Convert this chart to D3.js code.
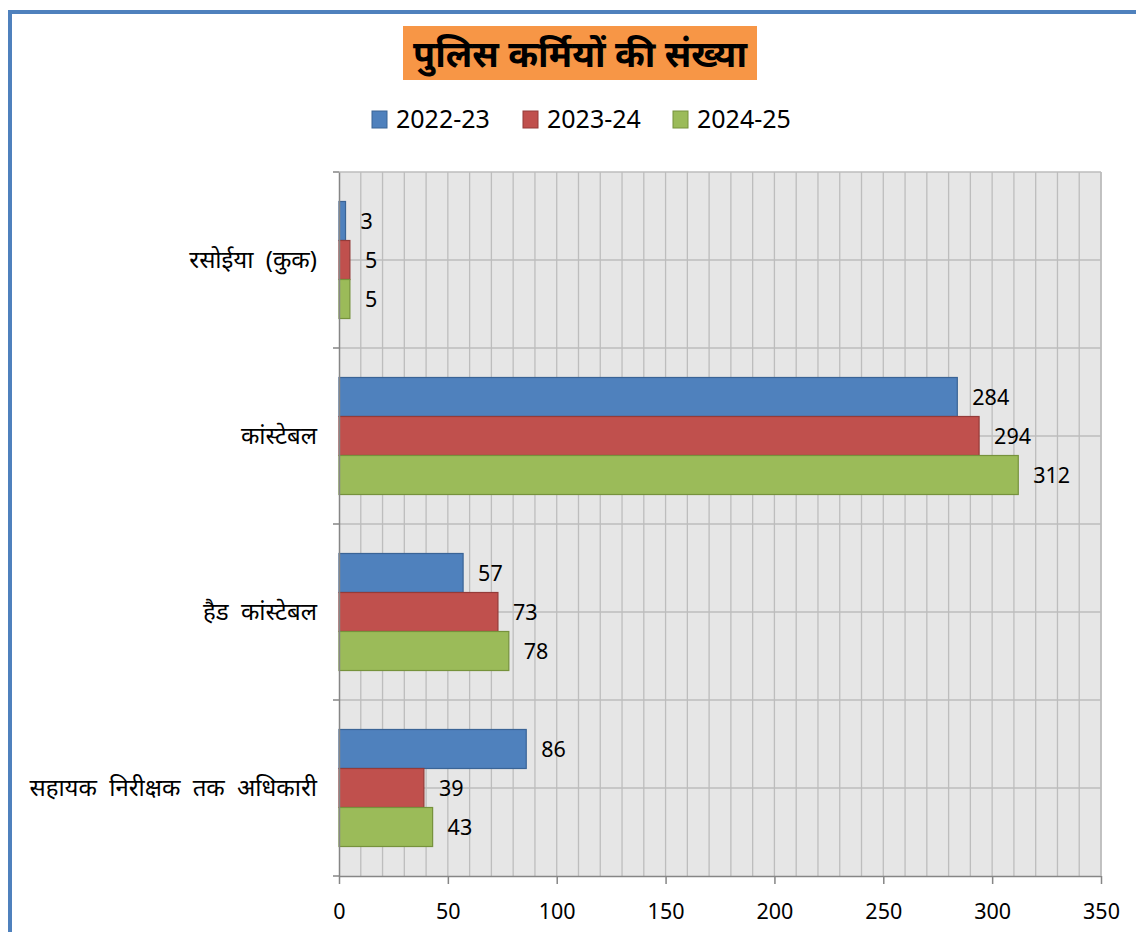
<!DOCTYPE html>
<html><head><meta charset="utf-8">
<script src="https://cdn.jsdelivr.net/npm/d3@7"></script>
<style>
body{margin:0;background:#fff;}
svg{display:block;}
</style></head>
<body>
<svg id="c" width="1136" height="932"></svg>
<script>
const title = "पुलिस कर्मियों की संख्या";
const categories = ["रसोईया (कुक)", "कांस्टेबल", "हैड कांस्टेबल", "सहायक निरीक्षक तक अधिकारी"];
const seriesNames = ["2022-23", "2023-24", "2024-25"];
const values2022 = [3, 284, 57, 86];
const values2023 = [5, 294, 73, 39];
const values2024 = [5, 312, 78, 43];
const xTicks = [0, 50, 100, 150, 200, 250, 300, 350];

(function () {
const seriesValues = [values2022, values2023, values2024];
const fills = ["#4F81BD", "#C0504D", "#9BBB59"];
const strokes = ["#3A6496", "#943B39", "#76923C"];
const font = "'Noto Sans', 'Open Sans', sans-serif";

const svg = d3.select("#c");

// outer chart border (top & left visible)
svg.append("rect").attr("x", 10).attr("y", 12).attr("width", 1200).attr("height", 1000)
  .attr("fill", "none").attr("stroke", "#4F81BD").attr("stroke-width", 4);

const pLeft = 339, pRight = 1101, pTop = 172, pBottom = 876;
const x = d3.scaleLinear().domain([0, 350]).range([pLeft, pRight]);
const y0 = d3.scaleBand().domain(categories).range([pTop, pBottom]).padding(0);
const y1 = d3.scaleBand().domain(seriesNames).range([0, y0.bandwidth()]).paddingInner(0).paddingOuter(0.756);

// plot background
svg.append("rect").attr("x", pLeft).attr("y", pTop).attr("width", pRight - pLeft).attr("height", pBottom - pTop)
  .attr("fill", "#E6E6E6");

// vertical grid every 10
const grid = svg.append("g").attr("stroke", "#BDBDBD").attr("stroke-width", 1.3);
d3.range(10, 351, 10).forEach(v => {
  grid.append("line").attr("x1", x(v)).attr("x2", x(v)).attr("y1", pTop).attr("y2", pBottom);
});
// horizontal grid: category boundaries and centers
const hLines = [];
categories.forEach(c => { hLines.push(y0(c)); hLines.push(y0(c) + y0.bandwidth() / 2); });
hLines.forEach(yy => {
  grid.append("line").attr("x1", pLeft).attr("x2", pRight).attr("y1", yy).attr("y2", yy);
});

// bars
categories.forEach((c, ci) => {
  seriesNames.forEach((s, si) => {
    const v = seriesValues[si][ci];
    svg.append("rect")
      .attr("x", x(0)).attr("y", y0(c) + y1(s))
      .attr("width", x(v) - x(0)).attr("height", y1.bandwidth())
      .attr("fill", fills[si]).attr("stroke", strokes[si]).attr("stroke-width", 1.2);
    svg.append("text")
      .attr("x", x(v) + 15).attr("y", y0(c) + y1(s) + y1.bandwidth() / 2)
      .attr("dy", "0.36em").attr("font-family", font).attr("font-size", 21.5)
      .attr("fill", "#000").text(v);
  });
});

// axes
const xAxis = d3.axisBottom(x).tickValues(xTicks).tickSize(8).tickPadding(20).tickSizeOuter(0);
const gx = svg.append("g").attr("transform", `translate(0,${pBottom})`).call(xAxis);
gx.select(".domain").attr("stroke", "#868686").attr("stroke-width", 1.5);
gx.selectAll(".tick line").attr("stroke", "#868686").attr("stroke-width", 1.5);
gx.selectAll(".tick text").attr("font-family", font).attr("font-size", 21.5).attr("fill", "#000");

const yAxis = d3.axisLeft(y0).tickSize(0).tickPadding(22);
const gy = svg.append("g").attr("transform", `translate(${pLeft},0)`).call(yAxis);
gy.select(".domain").attr("stroke", "#868686").attr("stroke-width", 1.5);
gy.selectAll(".tick text").attr("font-family", font).attr("font-size", 24)
  .attr("word-spacing", 6).attr("fill", "#000");
// category boundary ticks
const bounds = categories.map(c => y0(c)).concat([pBottom]);
bounds.forEach(b => {
  svg.append("line").attr("x1", pLeft - 6).attr("x2", pLeft).attr("y1", b).attr("y2", b)
    .attr("stroke", "#868686").attr("stroke-width", 1.5);
});
// right border of plot
svg.append("line").attr("x1", pRight).attr("x2", pRight).attr("y1", pTop).attr("y2", pBottom)
  .attr("stroke", "#BDBDBD").attr("stroke-width", 1.5);

// title
svg.append("rect").attr("x", 403).attr("y", 26).attr("width", 354).attr("height", 54).attr("fill", "#F79646");
svg.append("text").attr("x", 580).attr("y", 54).attr("dy", "0.36em").attr("text-anchor", "middle")
  .attr("font-family", font).attr("font-weight", "bold").attr("font-size", 36).attr("fill", "#000").text(title);

// legend
const legX = [372, 523, 673];
seriesNames.forEach((s, i) => {
  svg.append("rect").attr("x", legX[i]).attr("y", 111).attr("width", 15).attr("height", 17)
    .attr("fill", fills[i]).attr("stroke", strokes[i]).attr("stroke-width", 1);
  svg.append("text").attr("x", legX[i] + 24).attr("y", 119).attr("dy", "0.36em")
    .attr("font-family", font).attr("font-size", 25).attr("fill", "#000").text(s);
});
})();
</script>
</body></html>
